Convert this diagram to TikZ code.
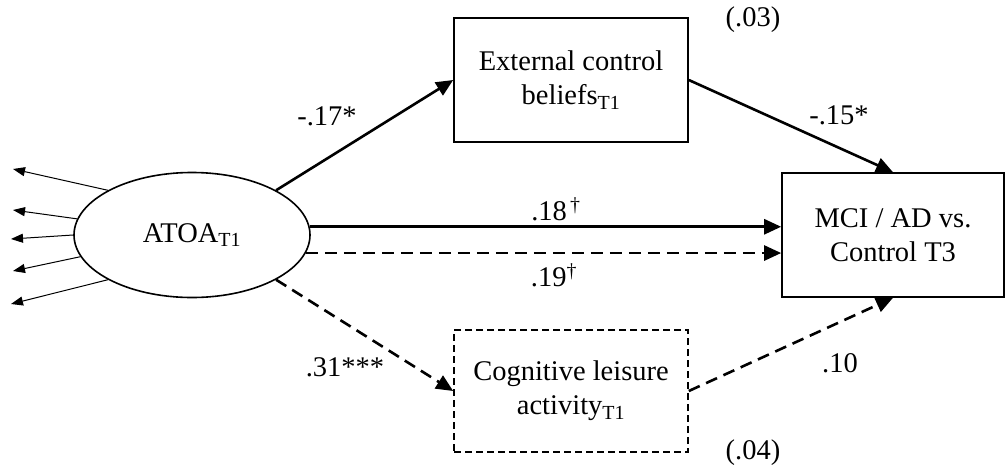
\documentclass[tikz,border=0pt]{standalone}
\usepackage{fontspec}
\setmainfont{Liberation Serif}
\usetikzlibrary{arrows.meta,shapes.geometric}
\begin{document}
\begin{tikzpicture}[x=1pt, y=-1pt,
        every node/.style = {align=center, font=\fontsize{28.5}{34}\selectfont},
        varbox/.style = {draw, line width=1.6pt, rectangle, inner sep=0pt},
        coef/.style = {inner sep=0pt},
        path/.style = {line width=2.6pt, -{Triangle[length=17pt, width=15pt]}},
        dashpath/.style = {path, dash pattern=on 12pt off 7pt},
        indicator/.style = {line width=1pt, -{Triangle[length=12pt, width=9pt]}}]
    \useasboundingbox (0,0) rectangle (1006,469);
    \node[draw, ellipse, line width=1.6pt, minimum width=236pt, minimum height=125pt, inner sep=0pt]
        (atoa) at (192,235) {ATOA\textsubscript{T1}};
    \node[varbox, minimum width=234pt, minimum height=124pt] (ext) at (571,80)
        {External control\\beliefs\textsubscript{T1}};
    \node[varbox, minimum width=222pt, minimum height=124pt] (mci) at (893,235)
        {MCI / AD vs.\\Control T3};
    \node[varbox, dash pattern=on 7pt off 4pt, minimum width=234pt, minimum height=122pt]
        (cog) at (571,391) {Cognitive leisure\\activity\textsubscript{T1}};
    % indicators
    \foreach \ang/\tx/\ty [count=\i] in {152/13/169, 172/13/210, 180/11/239, 191/13/271, 208/11/304} {
        \coordinate (ind\i) at (\tx,\ty);
        \draw[indicator] (atoa.\ang) -- (ind\i);
    }
    % paths
    \draw[path] (atoa.28) -- (ext.west);
    \draw[path] (ext.east) -- (mci.north);
    \draw[path] (atoa.4) -- (atoa.4 -| mci.west);
    \draw[dashpath] (atoa.-9) -- (atoa.-9 -| mci.west);
    \draw[dashpath] (atoa.-28) -- (cog.west);
    \draw[dashpath] (cog.east) -- (mci.south);
    % coefficients
    \node[coef] (c1) at (327,116) {-.17*};
    \node[coef] (c2) at (839,115) {-.15*};
    \node[coef] (c3) at (556,209) {.18\textsuperscript{\,†}};
    \node[coef] (c4) at (554,275) {.19\textsuperscript{†}};
    \node[coef] (c5) at (345,367) {.31***};
    \node[coef] (c6) at (840,363) {.10};
    \node[coef] (r1) at (753,20) {(.03)};
    \node[coef] (r2) at (753,453) {(.04)};
\end{tikzpicture}
\end{document}
